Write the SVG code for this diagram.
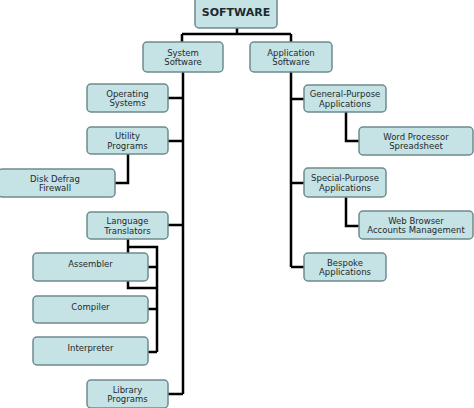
<svg xmlns="http://www.w3.org/2000/svg" width="474" height="408" viewBox="0 0 474 408">
<style>
.b{fill:#c5e3e4;stroke:#6d8b8d;stroke-width:1.5}
.t{font-family:"DejaVu Sans",Verdana,sans-serif;font-size:8.5px;fill:#1e2a2e;text-anchor:middle}
.h{font-family:"DejaVu Sans",Verdana,sans-serif;font-size:11px;font-weight:bold;fill:#1e2a2e;text-anchor:middle}
.c{fill:none;stroke:#000;stroke-width:2.5}
</style>
<rect width="474" height="408" fill="#fff"/>
<g id="connectors">
<path class="c" d="M237,28V34M182,34H291M182,34V42M291,34V42"/>
<path class="c" d="M183,72V394M168,98H183M168,141H183M168,225H183M168,394H183"/>
<path class="c" d="M128,154V183H115"/>
<path class="c" d="M128,239V288H157M128,247H157V352M148,267H157M148,309H157M148,352H157"/>
<path class="c" d="M291,72V267M291,99H304M291,183H304M291,267H304"/>
<path class="c" d="M346,112V141H359M346,197V226H359"/>
</g>
<g id="software"><rect class="b" x="195" y="-4" width="82" height="32" rx="4"/><text class="h" x="236" y="16">SOFTWARE</text></g>
<g id="system"><rect class="b" x="143" y="42" width="80" height="30" rx="4"/><text class="t" x="183" y="55.5">System</text><text class="t" x="183" y="65">Software</text></g>
<g id="application"><rect class="b" x="250" y="42" width="82" height="30" rx="4"/><text class="t" x="291" y="55.5">Application</text><text class="t" x="291" y="65">Software</text></g>
<g id="operating"><rect class="b" x="87" y="84" width="81" height="28" rx="4"/><text class="t" x="127.5" y="96.5">Operating</text><text class="t" x="127.5" y="106">Systems</text></g>
<g id="utility"><rect class="b" x="87" y="127" width="81" height="27" rx="4"/><text class="t" x="127.5" y="139">Utility</text><text class="t" x="127.5" y="148.5">Programs</text></g>
<g id="disk"><rect class="b" x="-2" y="169" width="117" height="28" rx="4"/><text class="t" x="55" y="181.5">Disk Defrag</text><text class="t" x="55" y="191">Firewall</text></g>
<g id="language"><rect class="b" x="87" y="212" width="81" height="27" rx="4"/><text class="t" x="127.5" y="224">Language</text><text class="t" x="127.5" y="233.5">Translators</text></g>
<g id="assembler"><rect class="b" x="33" y="253" width="115" height="28" rx="4"/><text class="t" x="90.5" y="267">Assembler</text></g>
<g id="compiler"><rect class="b" x="33" y="296" width="115" height="27" rx="4"/><text class="t" x="90.5" y="309.5">Compiler</text></g>
<g id="interpreter"><rect class="b" x="33" y="337" width="115" height="28" rx="4"/><text class="t" x="90.5" y="351">Interpreter</text></g>
<g id="library"><rect class="b" x="87" y="380" width="81" height="28" rx="4"/><text class="t" x="127.5" y="392.5">Library</text><text class="t" x="127.5" y="402">Programs</text></g>
<g id="general"><rect class="b" x="304" y="85" width="82" height="27" rx="4"/><text class="t" x="345" y="97">General-Purpose</text><text class="t" x="345" y="106.5">Applications</text></g>
<g id="word"><rect class="b" x="359" y="127" width="114" height="28" rx="4"/><text class="t" x="416" y="139.5">Word Processor</text><text class="t" x="416" y="149">Spreadsheet</text></g>
<g id="special"><rect class="b" x="304" y="168" width="82" height="29" rx="4"/><text class="t" x="345" y="181">Special-Purpose</text><text class="t" x="345" y="190.5">Applications</text></g>
<g id="web"><rect class="b" x="359" y="211" width="114" height="28" rx="4"/><text class="t" x="416" y="223.5">Web Browser</text><text class="t" x="416" y="233">Accounts Management</text></g>
<g id="bespoke"><rect class="b" x="304" y="253" width="82" height="28" rx="4"/><text class="t" x="345" y="265.5">Bespoke</text><text class="t" x="345" y="275">Applications</text></g>
</svg>
